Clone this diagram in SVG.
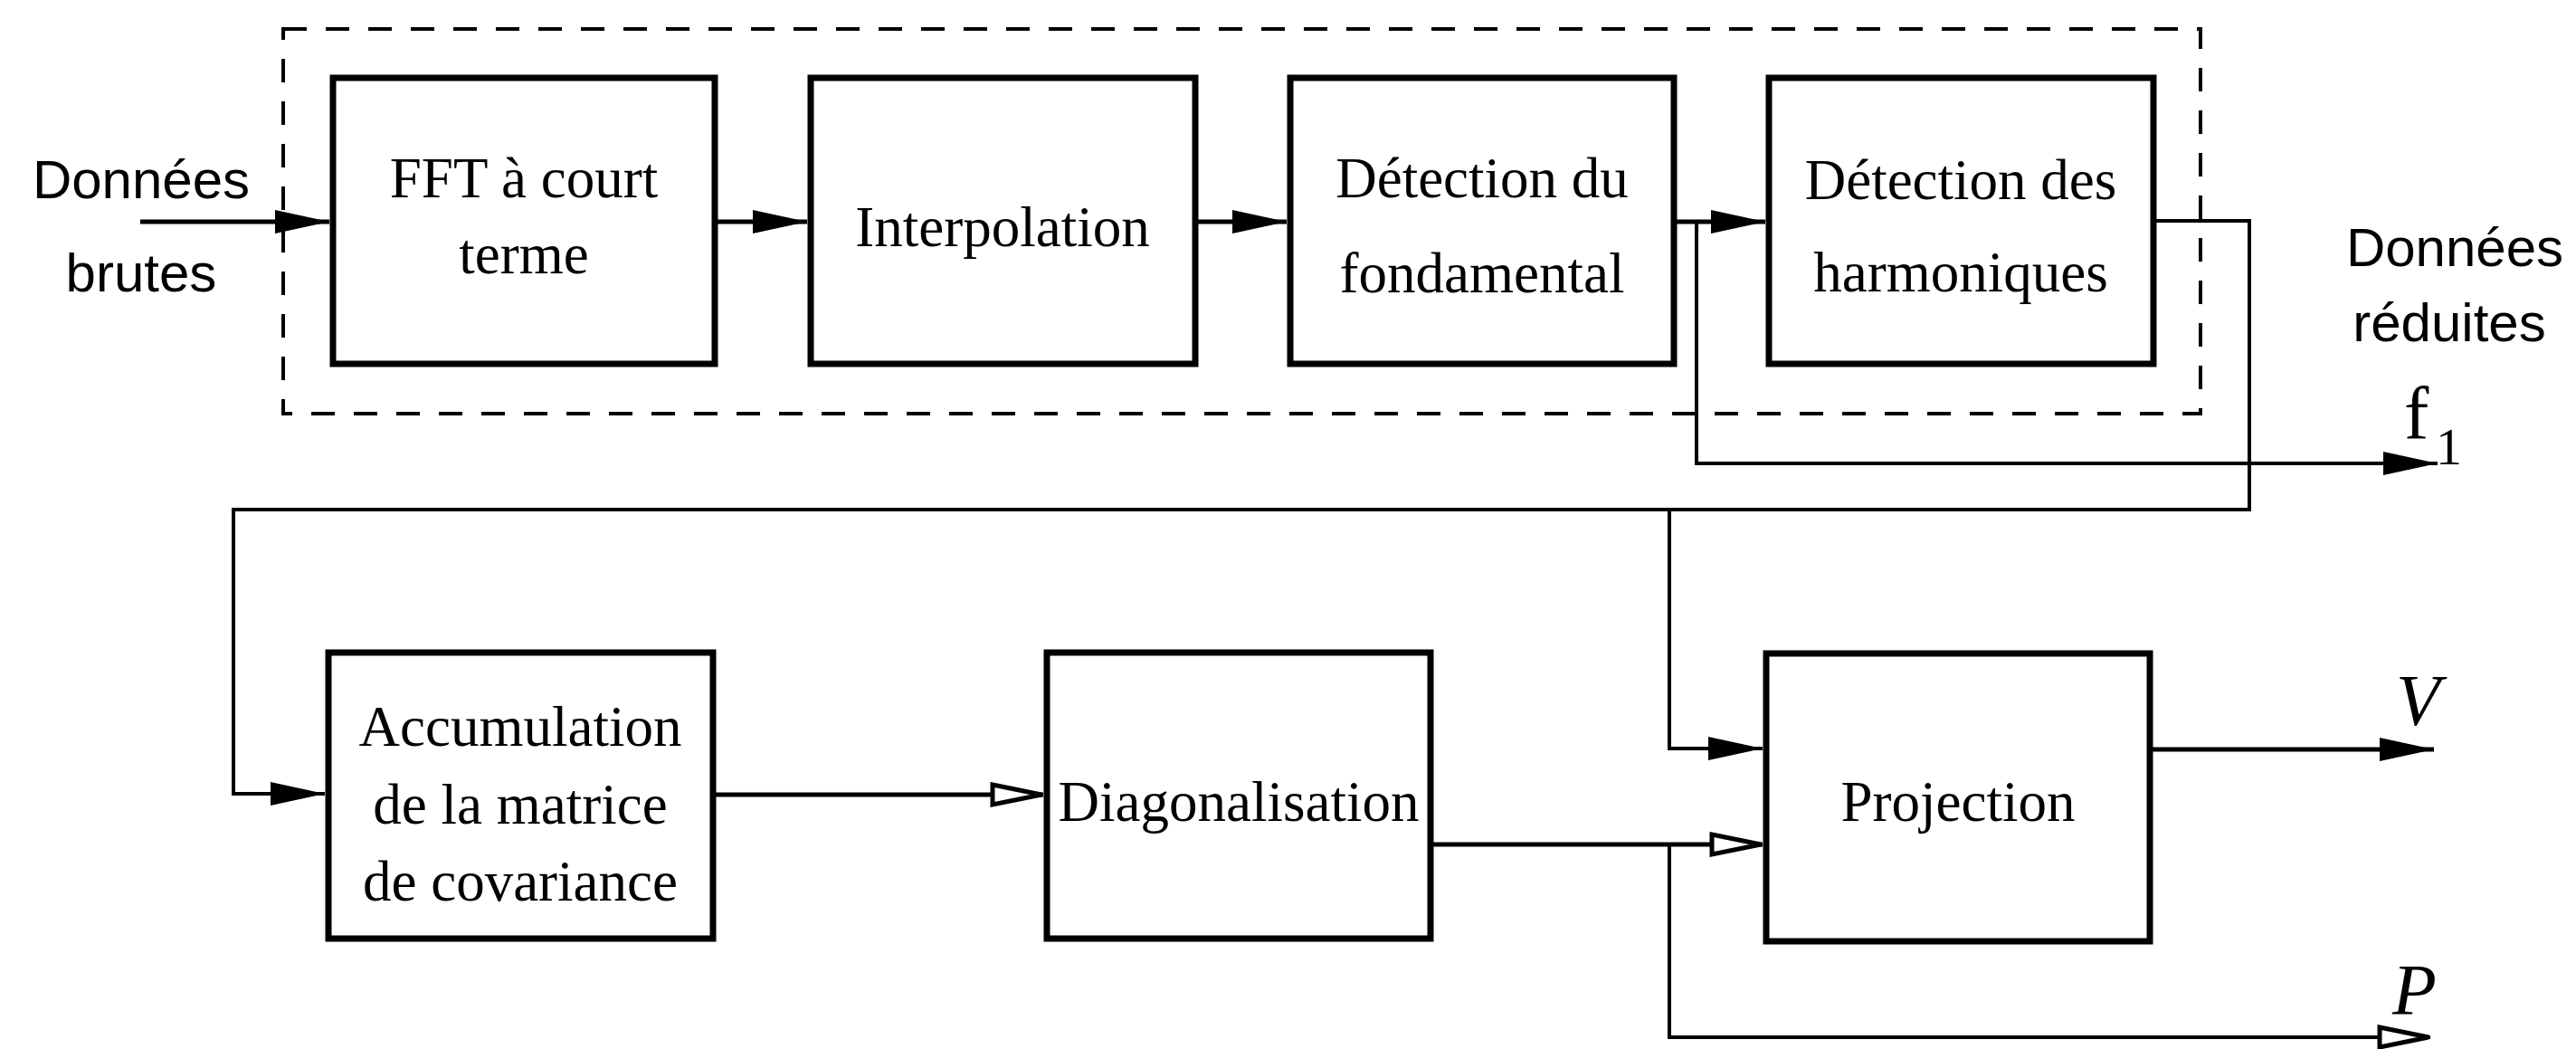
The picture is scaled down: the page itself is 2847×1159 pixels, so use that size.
<svg xmlns="http://www.w3.org/2000/svg" width="2847" height="1159" viewBox="0 0 2847 1159">
<style>
.box{fill:#fff;stroke:#000;stroke-width:7}
.lbl{font-family:"Liberation Serif","Times New Roman",serif;font-size:63px;text-anchor:middle;fill:#000}
.sans{font-family:"Liberation Sans",Arial,sans-serif;font-size:60px;text-anchor:middle;fill:#000}
.math{font-family:"Liberation Serif","Times New Roman",serif;font-style:italic;font-size:80px;fill:#000}
.c{fill:none;stroke:#000;stroke-width:5;stroke-linejoin:miter}
.thin{stroke-width:4}
.dash{fill:none;stroke:#000;stroke-width:4;stroke-dasharray:26 21}
</style>
<defs>
<marker id="af" markerUnits="userSpaceOnUse" viewBox="-2 -16 64 32" markerWidth="64" markerHeight="32" refX="60" refY="0" orient="auto">
<path d="M0,-13 L60,0 L0,13 Z" fill="#000"/>
</marker>
<marker id="ah" markerUnits="userSpaceOnUse" viewBox="-4 -16 66 32" markerWidth="66" markerHeight="32" refX="58" refY="0" orient="auto">
<path d="M2,-11 L56,0 L2,11 Z" fill="#fff" stroke="#000" stroke-width="5" stroke-linejoin="miter"/>
</marker>
</defs>
<rect width="2847" height="1159" fill="#fff"/>

<rect id="group-frame" class="dash" x="313" y="32" width="2119" height="425"/>

<g id="connectors">
<path class="c" d="M155,245 H364" marker-end="url(#af)"/>
<path class="c" d="M790,245 H892" marker-end="url(#af)"/>
<path class="c" d="M1321,245 H1422" marker-end="url(#af)"/>
<path class="c" d="M1850,245 H1951" marker-end="url(#af)"/>
<path class="c thin" d="M1875,245 V512 H2694" marker-end="url(#af)"/>
<path class="c thin" d="M2380,244 H2486 V563 H258 V877 H359" marker-end="url(#af)"/>
<path class="c thin" d="M1845,563 V827 H1948" marker-end="url(#af)"/>
<path class="c" d="M788,878 H1153" marker-end="url(#ah)"/>
<path class="c" d="M1581,933 H1948" marker-end="url(#ah)"/>
<path class="c thin" d="M1845,933 V1146 H2686" marker-end="url(#ah)"/>
<path class="c" d="M2376,828 H2690" marker-end="url(#af)"/>
</g>

<g id="node-fft">
<rect class="box" x="368" y="86" width="422" height="316"/>
<text class="lbl" x="579" y="218">FFT à court</text>
<text class="lbl" x="579" y="302">terme</text>
</g>
<g id="node-interpolation">
<rect class="box" x="896" y="86" width="425" height="316"/>
<text class="lbl" x="1108" y="272">Interpolation</text>
</g>
<g id="node-fondamental">
<rect class="box" x="1426" y="86" width="424" height="316"/>
<text class="lbl" x="1638" y="218">Détection du</text>
<text class="lbl" x="1638" y="323">fondamental</text>
</g>
<g id="node-harmoniques">
<rect class="box" x="1955" y="86" width="425" height="316"/>
<text class="lbl" x="2167" y="220">Détection des</text>
<text class="lbl" x="2167" y="322">harmoniques</text>
</g>
<g id="node-accumulation">
<rect class="box" x="363" y="721" width="425" height="316"/>
<text class="lbl" x="575" y="824">Accumulation</text>
<text class="lbl" x="575" y="910">de la matrice</text>
<text class="lbl" x="575" y="995">de covariance</text>
</g>
<g id="node-diagonalisation">
<rect class="box" x="1157" y="721" width="424" height="316"/>
<text class="lbl" x="1369" y="907">Diagonalisation</text>
</g>
<g id="node-projection">
<rect class="box" x="1952" y="722" width="424" height="318"/>
<text class="lbl" x="2164" y="907">Projection</text>
</g>

<g id="labels">
<text class="sans" x="156" y="219">Données</text>
<text class="sans" x="156" y="322">brutes</text>
<text class="sans" x="2713" y="294">Données</text>
<text class="sans" x="2707" y="377">réduites</text>
<text font-family="Liberation Serif, serif" font-size="82" x="2657" y="485">f</text>
<text font-family="Liberation Serif, serif" font-size="58" x="2692" y="513">1</text>
<text class="math" x="2648" y="801">V</text>
<text class="math" x="2644" y="1121">P</text>
</g>
</svg>
